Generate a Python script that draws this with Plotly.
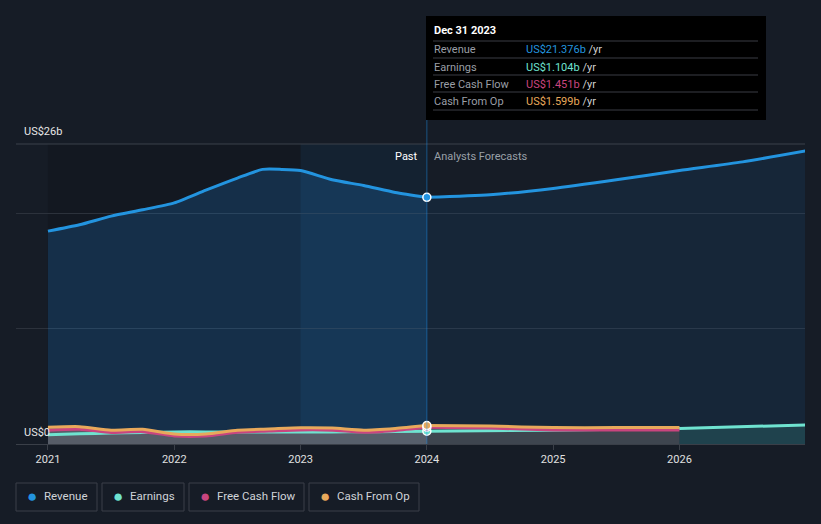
import plotly.graph_objects as go

# ---- data (US$ billions, decimal years) ----
rev_past_x = [2021.0, 2021.25, 2021.5, 2021.75, 2022.0, 2022.25, 2022.5, 2022.7, 2022.85, 2023.0, 2023.25, 2023.5, 2023.75, 2024.0]
rev_past_y = [18.45, 19.0, 19.75, 20.3, 20.9, 22.0, 23.05, 23.8, 23.8, 23.7, 22.9, 22.4, 21.8, 21.376]
rev_fc_x = [2024.0, 2024.5, 2025.0, 2025.5, 2026.0, 2026.5, 2027.0]
rev_fc_y = [21.376, 21.6, 22.15, 22.9, 23.7, 24.45, 25.4]

small_past_x = [2021.0, 2021.25, 2021.5, 2021.75, 2022.0, 2022.25, 2022.5, 2022.75, 2023.0, 2023.25, 2023.5, 2023.75, 2024.0]
cfo_past = [1.45, 1.5, 1.2, 1.27, 0.87, 0.87, 1.2, 1.3, 1.41, 1.38, 1.2, 1.35, 1.599]
fcf_past = [1.2, 1.28, 1.0, 1.07, 0.7, 0.7, 1.02, 1.12, 1.22, 1.2, 1.02, 1.18, 1.451]
earn_past = [0.8, 0.88, 0.95, 1.0, 1.05, 1.05, 1.04, 1.05, 1.05, 1.05, 1.06, 1.08, 1.104]

small_fc_x = [2024.0, 2024.5, 2025.0, 2025.5, 2026.0]
cfo_fc = [1.599, 1.55, 1.42, 1.42, 1.42]
fcf_fc = [1.451, 1.38, 1.22, 1.22, 1.22]
earn_fc_x = [2024.0, 2025.0, 2026.0, 2027.0]
earn_fc = [1.104, 1.2, 1.35, 1.65]

year_ticks = [2021, 2022, 2023, 2024, 2025, 2026]
legend_names = ["Revenue", "Earnings", "Free Cash Flow", "Cash From Op"]
tooltip_vals = ["US$21.376b", "US$1.104b", "US$1.451b", "US$1.599b"]

C_REV = "#2394df"
C_EARN = "#6fe3d0"
C_FCF = "#c9457f"
C_CFO = "#e8a95b"
colors = [C_REV, C_EARN, C_FCF, C_CFO]
BG = "#161c26"

fig = go.Figure()

# revenue
fig.add_trace(go.Scatter(x=rev_past_x, y=rev_past_y, mode="lines", line=dict(color=C_REV, width=3, shape="spline", smoothing=0.6),
                         fill="tozeroy", fillcolor="rgba(33,130,220,0.22)", hoverinfo="skip"))
fig.add_trace(go.Scatter(x=rev_fc_x, y=rev_fc_y, mode="lines", line=dict(color=C_REV, width=3, shape="spline", smoothing=0.6),
                         fill="tozeroy", fillcolor="rgba(33,130,220,0.10)", hoverinfo="skip"))

# small series fills
fig.add_trace(go.Scatter(x=small_past_x, y=cfo_past, mode="lines", line=dict(width=0), fill="tozeroy",
                         fillcolor="rgba(110,110,115,0.75)", hoverinfo="skip"))
fig.add_trace(go.Scatter(x=small_fc_x, y=cfo_fc, mode="lines", line=dict(width=0), fill="tozeroy",
                         fillcolor="rgba(90,90,95,0.6)", hoverinfo="skip"))
fig.add_trace(go.Scatter(x=[2026.0, 2027.0], y=[1.35, 1.65], mode="lines", line=dict(width=0), fill="tozeroy",
                         fillcolor="rgba(60,150,140,0.25)", hoverinfo="skip"))

# small series lines
for xs, ys, c in [(small_past_x, earn_past, C_EARN), (earn_fc_x, earn_fc, C_EARN),
                  (small_past_x, fcf_past, C_FCF), (small_fc_x, fcf_fc, C_FCF),
                  (small_past_x, cfo_past, C_CFO), (small_fc_x, cfo_fc, C_CFO)]:
    fig.add_trace(go.Scatter(x=xs, y=ys, mode="lines", line=dict(color=c, width=3, shape="spline", smoothing=0.6),
                             hoverinfo="skip"))

# markers at Dec 31 2023
fig.add_trace(go.Scatter(x=[2024.0] * 4, y=[rev_past_y[-1], earn_past[-1], fcf_past[-1], cfo_past[-1]],
                         mode="markers", marker=dict(size=8, color=colors, line=dict(color="white", width=1.5)),
                         hoverinfo="skip"))

shapes = [
    # past darker region
    dict(type="rect", xref="x", yref="paper", x0=2021.0, x1=2024.0, y0=0, y1=1,
         fillcolor="rgba(0,0,0,0.12)", line=dict(width=0), layer="below"),
    # highlight 2023-2024
    dict(type="rect", xref="x", yref="paper", x0=2023.0, x1=2024.0, y0=0, y1=1,
         fillcolor="rgba(33,150,243,0.08)", line=dict(width=0), layer="below"),
    # top gridline (26b)
    dict(type="line", xref="paper", yref="paper", x0=0, x1=1, y0=1, y1=1,
         line=dict(color="#3a404a", width=1)),
    # vertical line
    dict(type="line", xref="x", yref="paper", x0=2024.0, x1=2024.0, y0=0, y1=1.42,
         line=dict(color="rgba(33,150,243,0.45)", width=1)),
    # tooltip box
    dict(type="rect", xref="paper", yref="paper", x0=(426 - 16) / 789, x1=(766 - 16) / 789,
         y0=(444 - 120) / 300, y1=(444 - 16) / 300, fillcolor="#000000", line=dict(width=0)),
]
# tooltip separators
for yy in [41, 58, 75, 92, 110]:
    shapes.append(dict(type="line", xref="paper", yref="paper", x0=(433 - 16) / 789, x1=(758 - 16) / 789,
                       y0=(444 - yy) / 300, y1=(444 - yy) / 300, line=dict(color="#3a3d44", width=1)))

annotations = [
    dict(text="US$26b", x=22, y=131, anchor="left", color="#e6e6e6", size=11),
    dict(text="US$0", x=22, y=432, anchor="left", color="#e6e6e6", size=11),
    dict(text="Past", x=420, y=156, anchor="right", color="#ffffff", size=11),
    dict(text="Analysts Forecasts", x=432, y=156, anchor="left", color="#9aa0a8", size=11),
    dict(text="<b>Dec 31 2023</b>", x=432, y=31, anchor="left", color="#ffffff", size=11),
]
rows_y = [49, 67, 84, 101]
for name, val, c, ry in zip(legend_names, tooltip_vals, colors, rows_y):
    annotations.append(dict(text=name, x=432, y=ry, anchor="left", color="#9a9ea6", size=11))
    annotations.append(dict(text=f"<span style='color:{c}'>{val}</span> /yr", x=524, y=ry, anchor="left",
                            color="#d0d0d0", size=11))

# legend boxes
boxes = [(16, 97), (102, 184), (189, 304), (309, 419)]
for (bx0, bx1), name, c in zip(boxes, legend_names, colors):
    shapes.append(dict(type="rect", xref="paper", yref="paper", x0=(bx0 - 16) / 789, x1=(bx1 - 16) / 789,
                       y0=(444 - 511) / 300, y1=(444 - 483) / 300, line=dict(color="#3a3f48", width=1),
                       fillcolor="rgba(0,0,0,0)"))
    annotations.append(dict(text="●", x=bx0 + 16, y=496, anchor="center", color=c, size=17))
    annotations.append(dict(text=name, x=bx0 + 26, y=496, anchor="left", color="#d0d3d8", size=11.5))

# page pixel coordinates -> plot paper coordinates
ann_objs = []
for a in annotations:
    ann_objs.append(dict(text=a["text"], x=(a["x"] - 16) / 789, y=(444 - a["y"]) / 300,
                         xref="paper", yref="paper", showarrow=False, xanchor=a["anchor"], yanchor="middle",
                         font=dict(color=a["color"], size=a["size"])))

fig.update_layout(
    width=821, height=524,
    margin=dict(l=16, r=16, t=144, b=80),
    paper_bgcolor=BG, plot_bgcolor=BG,
    showlegend=False,
    font=dict(family="Roboto", color="#e0e0e0", size=11),
    shapes=shapes, annotations=ann_objs,
    xaxis=dict(range=[2020.747, 2026.994], tickvals=year_ticks, ticktext=[str(v) for v in year_ticks],
               showgrid=False, zeroline=False, showline=True, linecolor="#3a3f48", linewidth=1,
               ticks="outside", ticklen=5, tickcolor="#3a3f48", tickfont=dict(color="#e0e0e0", size=11)),
    yaxis=dict(range=[0, 26], tickvals=[10, 20], showticklabels=False, showgrid=True,
               gridcolor="#2c323c", gridwidth=1, zeroline=False, fixedrange=True),
)

fig.write_html("out.html", config={"displayModeBar": False},
               post_script="document.body.style.margin='0';document.body.style.background='%s';" % BG)
